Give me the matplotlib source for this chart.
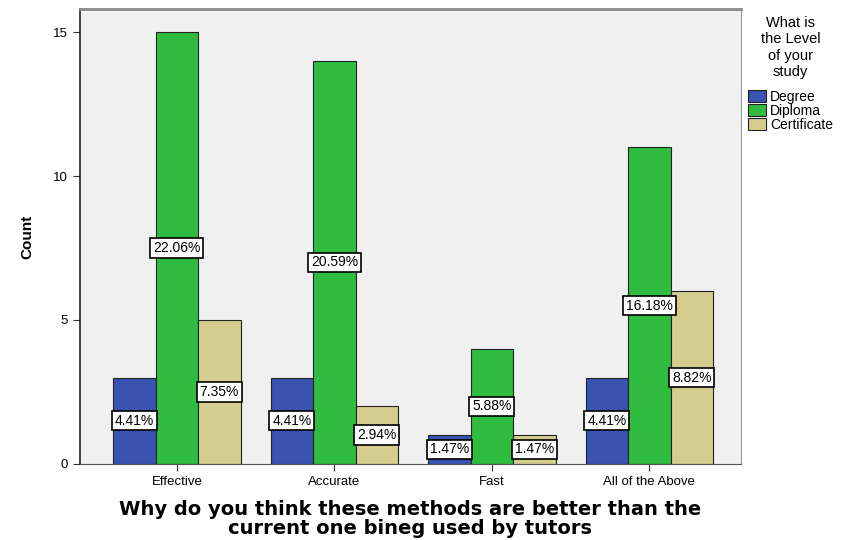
import numpy as np
import matplotlib
matplotlib.use('Agg')
import matplotlib.pyplot as plt

plt.rcParams['font.family'] = ['Liberation Sans', 'DejaVu Sans']

categories = ["Effective", "Accurate", "Fast", "All of the Above"]
series = ["Degree", "Diploma", "Certificate"]
degree = [3, 3, 1, 3]
diploma = [15, 14, 4, 11]
certificate = [5, 2, 1, 6]
pct_labels = [
    ["4.41%", "4.41%", "1.47%", "4.41%"],
    ["22.06%", "20.59%", "5.88%", "16.18%"],
    ["7.35%", "2.94%", "1.47%", "8.82%"],
]
colors = ["#3a52b0", "#2fbc3f", "#d4cd8f"]

fig = plt.figure(figsize=(8.46, 5.4), dpi=100)
ax = fig.add_axes([0.0946, 0.141, 0.781, 0.842])
ax.set_facecolor("#f0f0f0")

x = np.arange(len(categories))
w = 0.27
for i, (vals, name) in enumerate(zip([degree, diploma, certificate], series)):
    pos = x + (i - 1) * w
    ax.bar(pos, vals, w, color=colors[i], edgecolor="#222222", linewidth=0.8, label=name, zorder=2)
    for px, v, lab in zip(pos, vals, pct_labels[i]):
        ax.text(px, v / 2, lab, ha="center", va="center", fontsize=10, zorder=3,
                bbox=dict(boxstyle="square,pad=0.2", fc="white", ec="black", lw=1.2))

ax.set_xlim(-0.615, 3.58)
ax.set_ylim(0, 15.8)
ax.set_yticks([0, 5, 10, 15])
ax.set_xticks(x)
ax.set_xticklabels(categories, fontsize=9.5)
ax.tick_params(axis="y", labelsize=9.5, length=5, color="#333333")
ax.tick_params(axis="x", length=5, color="#333333")

ax.spines["left"].set_color("#222222")
ax.spines["left"].set_linewidth(1.2)
ax.spines["bottom"].set_color("#555555")
ax.spines["top"].set_color("#888888")
ax.spines["top"].set_linewidth(2)
ax.spines["right"].set_color("#999999")

ax.set_ylabel("Count", fontsize=11, fontweight="bold", labelpad=14)
ax.set_xlabel("Why do you think these methods are better than the\ncurrent one bineg used by tutors",
              fontsize=14, fontweight="bold", family="DejaVu Sans", linespacing=1.0, labelpad=9)

leg = ax.legend(loc="upper left", bbox_to_anchor=(1.0, 1.0), frameon=False,
                title="What is\nthe Level\nof your\nstudy", fontsize=10, title_fontsize=10.5,
                handlelength=1.3, handleheight=0.9, handletextpad=0.3, borderaxespad=0.1,
                labelspacing=0.0, alignment="center")
leg.get_title().set_multialignment("center")
leg._legend_box.sep = 8  # gap between legend title and entries
for h in leg.legend_handles:
    h.set_edgecolor("#222222")
    h.set_linewidth(0.8)

fig.savefig("out.png", dpi=100)
